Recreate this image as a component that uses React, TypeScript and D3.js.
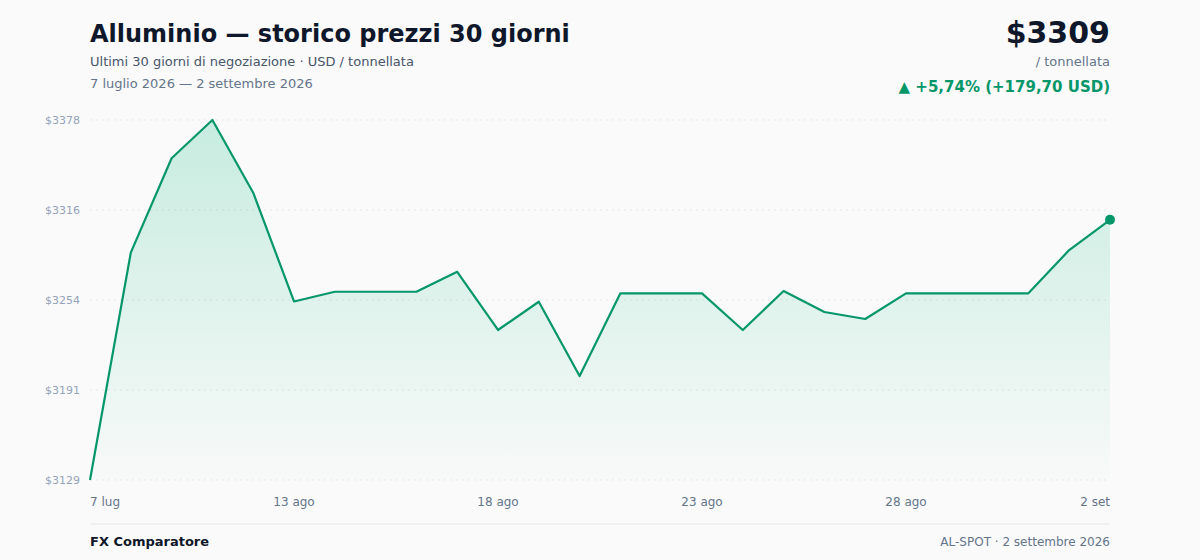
import React, { useMemo } from 'react';
import * as d3 from 'd3';

const DATE_LABELS = [
  '7 lug', '9 ago', '10 ago', '11 ago', '12 ago', '13 ago', '14 ago', '15 ago', '16 ago', '17 ago',
  '18 ago', '19 ago', '20 ago', '21 ago', '22 ago', '23 ago', '24 ago', '25 ago', '26 ago', '27 ago',
  '28 ago', '29 ago', '30 ago', '31 ago', '1 set', '2 set',
];

const PRICES = [
  3129.3, 3286.3, 3351.5, 3377.9, 3327.7, 3252.6, 3259.3, 3259.3, 3259.3, 3273.1,
  3232.9, 3252.4, 3201.1, 3258.2, 3258.2, 3258.2, 3232.9, 3259.8, 3245.3, 3240.5,
  3258.2, 3258.2, 3258.2, 3258.2, 3288.1, 3309.0,
];

const X_TICK_INDEX = [0, 5, 10, 15, 20, 25];

const W = 1200;
const H = 560;
const FONT = '"DejaVu Sans", Verdana, sans-serif';
const GREEN = '#059669';

const App: React.FC = () => {
  const margin = { left: 90, right: 90, top: 120, bottom: 80 };

  const x = useMemo(
    () => d3.scaleLinear().domain([0, PRICES.length - 1]).range([margin.left, W - margin.right]),
    []
  );
  const [minV, maxV] = d3.extent(PRICES) as [number, number];
  const y = d3.scaleLinear().domain([minV, maxV]).range([H - margin.bottom, margin.top]);

  const yTicks = d3.range(5).map(i => minV + (i * (maxV - minV)) / 4);

  const line = d3.line<number>().x((_, i) => x(i)).y(d => y(d));
  const area = d3.area<number>().x((_, i) => x(i)).y0(H - margin.bottom).y1(d => y(d));

  const first = PRICES[0];
  const last = PRICES[PRICES.length - 1];
  const diff = last - first;
  const pct = (diff / first) * 100;
  const fmtIt = (v: number) => v.toFixed(2).replace('.', ',');

  return (
    <svg
      width={W}
      height={H}
      style={{ position: 'absolute', left: 0, top: 0, display: 'block', background: '#fafafa' }}
      fontFamily={FONT}
    >
      <defs>
        <linearGradient id="fillGrad" x1="0" y1="0" x2="0" y2="1">
          <stop offset="0%" stopColor="#10b981" stopOpacity={0.22} />
          <stop offset="100%" stopColor="#10b981" stopOpacity={0.01} />
        </linearGradient>
      </defs>
      <rect width={W} height={H} fill="#fafafa" />

      {/* header */}
      <text x={90} y={42} fontSize={24} fontWeight="bold" fill="#0f172a">
        Alluminio — storico prezzi 30 giorni
      </text>
      <text x={90} y={66} fontSize={13} fill="#475569">
        Ultimi 30 giorni di negoziazione · USD / tonnellata
      </text>
      <text x={90} y={88} fontSize={13} fill="#64748b">
        7 luglio 2026 — 2 settembre 2026
      </text>
      <text x={1110} y={43} fontSize={30} fontWeight="bold" fill="#0f172a" textAnchor="end">
        ${Math.round(last)}
      </text>
      <text x={1110} y={66} fontSize={13} fill="#64748b" textAnchor="end">
        / tonnellata
      </text>
      <text x={1110} y={92} fontSize={15} fontWeight="bold" fill={GREEN} textAnchor="end">
        ▲ +{fmtIt(pct)}% (+{fmtIt(diff)} USD)
      </text>

      {/* grid + y labels */}
      {yTicks.map((t, i) => (
        <g key={i}>
          <line
            x1={margin.left}
            x2={W - margin.right}
            y1={y(t)}
            y2={y(t)}
            stroke="#e5e7eb"
            strokeDasharray="2,4"
          />
          <text x={80} y={y(t) + 4} fontSize={11} fill="#94a3b8" textAnchor="end">
            ${Math.round(t)}
          </text>
        </g>
      ))}

      {/* area + line */}
      <path d={area(PRICES) ?? ''} fill="url(#fillGrad)" />
      <path d={line(PRICES) ?? ''} fill="none" stroke={GREEN} strokeWidth={2.2} strokeLinejoin="round" />
      <circle cx={x(PRICES.length - 1)} cy={y(last)} r={5} fill={GREEN} />

      {/* x labels */}
      {X_TICK_INDEX.map((idx, i) => (
        <text
          key={idx}
          x={x(idx)}
          y={506}
          fontSize={12}
          fill="#64748b"
          textAnchor={i === 0 ? 'start' : i === X_TICK_INDEX.length - 1 ? 'end' : 'middle'}
        >
          {DATE_LABELS[idx]}
        </text>
      ))}

      {/* footer */}
      <line x1={90} x2={1110} y1={524} y2={524} stroke="#e5e7eb" strokeWidth={1} />
      <text x={90} y={546} fontSize={13} fontWeight="bold" fill="#0f172a">
        FX Comparatore
      </text>
      <text x={1110} y={546} fontSize={12} fill="#64748b" textAnchor="end">
        AL-SPOT · 2 settembre 2026
      </text>
    </svg>
  );
};

export default App;
